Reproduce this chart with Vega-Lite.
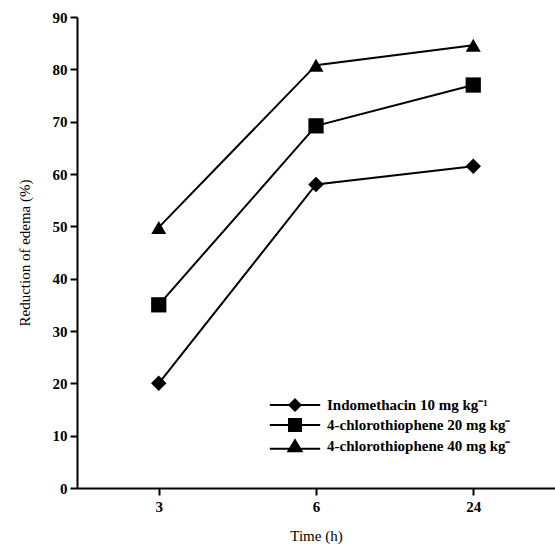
{
  "$schema": "https://vega.github.io/schema/vega-lite/v6.json",
  "width": 478,
  "height": 471,
  "autosize": {"type": "none"},
  "padding": {"left": 77, "top": 17, "right": 0, "bottom": 66},
  "background": "white",
  "config": {
    "view": {"stroke": null},
    "font": "Liberation Serif",
    "axis": {
      "domainColor": "black",
      "domainWidth": 2,
      "tickColor": "black",
      "tickWidth": 2,
      "tickSize": 7,
      "grid": false,
      "labelFont": "Liberation Serif",
      "labelFontWeight": "bold",
      "labelFontSize": 15,
      "labelColor": "black",
      "titleFont": "Liberation Serif",
      "titleFontSize": 15,
      "titleFontWeight": "normal",
      "titleColor": "black"
    }
  },
  "data": {
    "values": [
      {"time": "3", "series": "Indomethacin 10 mg kg⁻¹", "value": 20},
      {"time": "6", "series": "Indomethacin 10 mg kg⁻¹", "value": 58},
      {"time": "24", "series": "Indomethacin 10 mg kg⁻¹", "value": 61.5},
      {"time": "3", "series": "4-chlorothiophene 20 mg kg⁻", "value": 35},
      {"time": "6", "series": "4-chlorothiophene 20 mg kg⁻", "value": 69.2},
      {"time": "24", "series": "4-chlorothiophene 20 mg kg⁻", "value": 77},
      {"time": "3", "series": "4-chlorothiophene 40 mg kg⁻", "value": 49.8},
      {"time": "6", "series": "4-chlorothiophene 40 mg kg⁻", "value": 80.8},
      {"time": "24", "series": "4-chlorothiophene 40 mg kg⁻", "value": 84.6}
    ]
  },
  "encoding": {
    "x": {
      "field": "time",
      "type": "ordinal",
      "sort": ["3", "6", "24"],
      "scale": {"type": "point", "padding": 0.52},
      "axis": {"title": "Time (h)", "labelAngle": 0, "labelPadding": 4, "titlePadding": 14}
    },
    "y": {
      "field": "value",
      "type": "quantitative",
      "scale": {"domain": [0, 90], "nice": false},
      "axis": {"title": "Reduction of edema (%)", "values": [0,10,20,30,40,50,60,70,80,90], "labelPadding": 3, "titlePadding": 20}
    }
  },
  "layer": [
    {
      "mark": {"type": "line", "color": "black", "strokeWidth": 2},
      "encoding": {"detail": {"field": "series"}}
    },
    {
      "mark": {"type": "point", "filled": true, "color": "black", "opacity": 1},
      "encoding": {
        "shape": {
          "field": "series",
          "type": "nominal",
          "scale": {
            "domain": ["Indomethacin 10 mg kg⁻¹", "4-chlorothiophene 20 mg kg⁻", "4-chlorothiophene 40 mg kg⁻"],
            "range": ["diamond", "square", "triangle-up"]
          },
          "legend": null
        },
        "size": {
          "field": "series",
          "type": "nominal",
          "scale": {
            "domain": ["Indomethacin 10 mg kg⁻¹", "4-chlorothiophene 20 mg kg⁻", "4-chlorothiophene 40 mg kg⁻"],
            "range": [240, 225, 360]
          },
          "legend": null
        }
      }
    },
    {
      "mark": {"type": "point", "filled": true, "color": "black", "opacity": 1, "size": 0},
      "encoding": {
        "shape": {
          "field": "series",
          "type": "nominal",
          "scale": {
            "domain": ["Indomethacin 10 mg kg⁻¹", "4-chlorothiophene 20 mg kg⁻", "4-chlorothiophene 40 mg kg⁻"],
            "range": ["M-3.6,-0.14L3.6,-0.14L3.6,0.14L-3.6,0.14ZM0,-1L1,0L0,1L-1,0Z", "M-3.6,-0.14L3.6,-0.14L3.6,0.14L-3.6,0.14ZM-1,-1L1,-1L1,1L-1,1Z", "M-3.6,0.26L3.6,0.26L3.6,0.54L-3.6,0.54ZM0,-1.1L1.2,0.9L-1.2,0.9Z"]
          },
          "legend": {
            "orient": "none",
            "legendX": 210,
            "legendY": 380,
            "title": null,
            "symbolSize": 196,
            "symbolFillColor": "black",
            "symbolStrokeColor": "black",
            "symbolStrokeWidth": 2,
            "symbolOpacity": 1,
            "labelFont": "Liberation Serif",
            "labelFontWeight": "bold",
            "labelFontSize": 15,
            "labelColor": "black",
            "labelOffset": 24,
            "rowPadding": -2,
            "labelLimit": 300
          }
        }
      }
    }
  ],
  "resolve": {"scale": {"shape": "independent"}}
}
